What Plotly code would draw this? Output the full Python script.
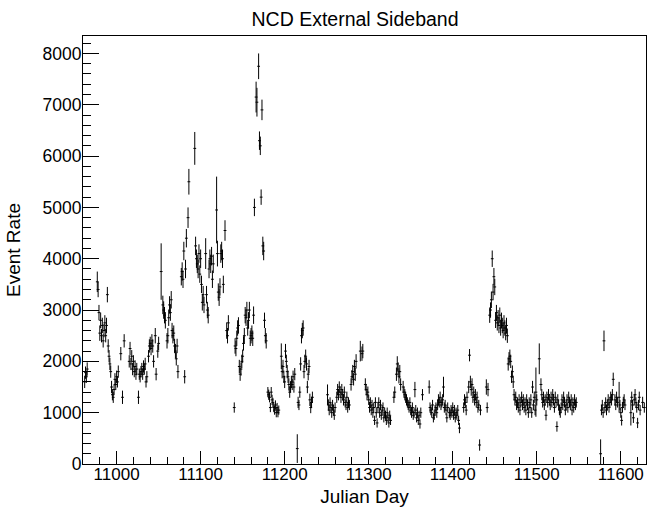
import plotly.graph_objects as go

# ---------------- data (Julian day, event rate, error) ----------------
days_1 = [10962, 10963, 10964, 10965,
          10977, 10978, 10979, 10980, 10981, 10982, 10983, 10984, 10985, 10986, 10987, 10988, 10989,
          10990, 10991, 10992, 10993, 10994, 10995, 10996, 10997, 10998, 10999, 11000, 11001, 11002,
          11005, 11007, 11009,
          11015, 11016, 11017, 11018, 11019, 11020, 11021, 11022, 11023, 11024,
          11026, 11027, 11028, 11029, 11030, 11031, 11032, 11033, 11034, 11035, 11036,
          11038, 11039, 11040, 11041, 11042, 11043, 11044,
          11046, 11047, 11049, 11050]
rate_1 = [1600, 1780, 1700, 1850,
          3550, 3400, 2950, 2550, 2800, 2500, 2700, 2400, 2600, 2750, 2500, 2700, 3300,
          2300, 2100, 1950, 1800, 1500, 1350, 1300, 1450, 1650, 1550, 1700, 1600, 1800,
          2150, 1300, 2400,
          2000, 2250, 1950, 2100, 1850, 2000, 1800, 1900, 1750, 1850,
          1300, 1750, 1700, 1800, 1850, 1750, 1900, 1850, 1950, 1600, 1700,
          2100, 2300, 2350, 2250, 2400, 2300, 2000,
          2500, 1750, 2200, 2350]
err_1 = [120, 120, 120, 130,
         200, 150, 150, 150, 150, 130, 150, 130, 130, 150, 130, 150, 150,
         130, 120, 120, 120, 120, 110, 110, 110, 120, 110, 120, 110, 120,
         130, 130, 130,
         120, 130, 120, 120, 120, 120, 110, 120, 110, 120,
         130, 110, 110, 110, 120, 110, 120, 110, 120, 110, 110,
         120, 130, 130, 130, 130, 130, 120,
         150, 120, 130, 130]

days_2 = [11053, 11055, 11056, 11057, 11058, 11060, 11061, 11062, 11063, 11064, 11065, 11066, 11067,
          11068, 11069, 11070, 11071, 11072, 11073,
          11077, 11078, 11079, 11080, 11081, 11082, 11083, 11085, 11086, 11093,
          11094, 11095, 11096, 11097, 11098, 11099, 11100, 11101, 11102, 11103, 11104,
          11106, 11107, 11108, 11109, 11110, 11111, 11112, 11113, 11114, 11115,
          11119, 11120, 11121, 11122, 11123, 11124, 11125, 11126, 11127, 11129,
          11131, 11132, 11133]
rate_2 = [3750, 3100, 3000, 2900, 2800, 2400, 2500, 2850, 3100, 2950, 3200, 2600, 2500,
          2550, 2300, 2200, 2050, 2300, 1800,
          3650, 3750, 3600, 4150, 1700, 3800, 4400, 4800, 5500, 6150,
          4250, 4000, 3900, 3800, 4100, 3700, 4000, 3500, 3150, 3300, 3100,
          4100, 3300, 3000, 2900, 3800, 4000, 3900, 4050, 3600, 3900,
          4950, 4100, 3350, 3250, 3450, 4100, 4150, 4000, 3500, 4550,
          2600, 2500, 2750]
err_2 = [550, 180, 170, 160, 160, 150, 150, 160, 170, 160, 170, 150, 150,
         150, 140, 140, 130, 140, 130,
         170, 180, 170, 180, 130, 180, 180, 200, 250, 320,
         180, 180, 180, 180, 180, 170, 180, 170, 160, 170, 160,
         300, 170, 160, 160, 180, 180, 180, 180, 170, 180,
         650, 250, 170, 170, 170, 180, 180, 180, 170, 200,
         160, 150, 150]

days_3 = [11140, 11141, 11142, 11143, 11144, 11145, 11146, 11147, 11148, 11149, 11150, 11151,
          11152, 11153, 11154, 11155, 11156, 11157, 11158, 11159, 11160, 11161, 11162, 11163,
          11164, 11166, 11167, 11169, 11170, 11171, 11172, 11173, 11174, 11175,
          11176, 11177, 11178]
rate_3 = [1100, 2300, 2250, 2450, 2650, 2700, 1900, 1750, 1850, 2000, 2100, 2350,
          2500, 2900, 2850, 3000, 2650, 2800, 3000, 2450, 2500, 2550, 2450, 2900,
          5000, 7150, 7050, 7750, 6300, 6200, 5200, 6900, 4250, 4150,
          2800, 2500, 2400]
err_3 = [100, 150, 150, 150, 150, 160, 130, 130, 130, 130, 130, 140,
         150, 160, 160, 160, 150, 160, 160, 150, 150, 150, 150, 170,
         170, 300, 280, 250, 180, 180, 150, 200, 180, 180,
         150, 150, 150]

days_4 = [11180, 11181, 11182, 11183, 11184, 11185, 11186, 11187, 11188, 11189, 11190, 11191, 11192, 11193,
          11196, 11197, 11198, 11199, 11200, 11201, 11202, 11203, 11204, 11205, 11206, 11207, 11208,
          11209, 11210, 11211, 11212,
          11215, 11216, 11217, 11218, 11219, 11220, 11221, 11222, 11223, 11224, 11225, 11226, 11227,
          11228, 11229, 11230, 11231, 11232, 11233]
rate_4 = [1400, 1350, 1300, 1100, 1400, 1250, 1200, 1100, 1050, 1150, 1000, 1100, 1000, 1050,
          2100, 1800, 1900, 1700, 1600, 2200, 2000, 1800, 1700, 1550, 1400, 1500, 1600,
          1550, 1700, 1500, 1750,
          300, 1200, 1150, 1400, 1950, 2500, 2600, 2650, 1800, 2000, 2100, 1950, 1500,
          1750, 1900, 1250, 1100, 1200, 1300]
err_4 = [100, 100, 100, 90, 100, 100, 90, 90, 90, 90, 90, 90, 90, 90,
         250, 130, 130, 120, 120, 140, 130, 130, 120, 120, 110, 110, 120,
         110, 120, 110, 120,
         280, 110, 100, 110, 130, 150, 150, 150, 130, 130, 130, 130, 120,
         120, 130, 120, 110, 110, 110]

days_5 = [11251, 11252, 11253, 11254, 11255, 11256, 11257, 11258, 11259, 11260,
          11262, 11263, 11264, 11265, 11266, 11267, 11268, 11269, 11270, 11271, 11272, 11273,
          11274, 11275, 11276, 11277,
          11279, 11280, 11281, 11282, 11283, 11284, 11285,
          11290, 11292, 11293,
          11296, 11297, 11298, 11299, 11300, 11301, 11302, 11303, 11304, 11305,
          11306, 11307, 11308, 11309, 11310, 11311, 11312, 11313, 11314, 11315,
          11316, 11317, 11318, 11319, 11320, 11321, 11322, 11323, 11324, 11325, 11326,
          11330, 11331,
          11333, 11334, 11335, 11336, 11337, 11338,
          11341, 11342, 11343, 11344, 11345, 11346, 11347, 11348, 11349, 11350,
          11351, 11352, 11353, 11354, 11355, 11356, 11357, 11358, 11359, 11360, 11361, 11362,
          11364]
rate_5 = [1350, 1150, 1050, 1200, 1100, 1000, 1150, 1050, 950, 1100,
          1300, 1450, 1350, 1500, 1400, 1300, 1450, 1350, 1250, 1400, 1200, 1150,
          1300, 1100, 1200, 1150,
          1550, 1700, 1800, 1650, 1900, 1750, 2000,
          2200, 2150, 2200,
          1550, 1450, 1350, 1400, 1250, 1100, 1200, 1050, 1150, 1000,
          1100, 850, 1200, 1000, 800, 1100, 1200, 1000, 1150, 950,
          1050, 1100, 900, 1000, 950, 850, 1000, 900, 800, 950, 850,
          1300, 1400,
          1750, 1950, 1850, 1700, 1800, 1550,
          1500, 1400, 1350, 1300, 1250, 1200, 1150, 1100, 1200, 1050,
          1000, 1100, 950, 1000, 1450, 1050, 900, 1000, 850, 950, 780, 1000,
          1350]
err_5 = [200, 110, 100, 100, 100, 100, 100, 100, 90, 100,
         110, 110, 110, 110, 110, 110, 110, 110, 110, 110, 100, 100,
         110, 100, 100, 100,
         120, 130, 130, 120, 130, 130, 140,
         200, 140, 140,
         120, 110, 110, 110, 100, 100, 100, 100, 100, 100,
         100, 90, 100, 100, 90, 100, 100, 100, 100, 90,
         100, 100, 90, 100, 90, 90, 100, 90, 90, 90, 90,
         110, 110,
         130, 150, 130, 130, 130, 120,
         120, 110, 110, 110, 110, 100, 100, 100, 100, 100,
         100, 100, 90, 100, 150, 100, 90, 100, 90, 90, 90, 100,
         110]

days_6 = [11372, 11373, 11374, 11375, 11376, 11377, 11378, 11379, 11380, 11381,
          11382, 11383, 11384, 11385, 11386, 11387, 11388, 11389, 11390, 11391, 11392, 11393, 11394,
          11396, 11397, 11398, 11399, 11400, 11401, 11402, 11403, 11404, 11405, 11406, 11407, 11408,
          11413, 11414, 11415, 11416, 11417,
          11419, 11420, 11421, 11422, 11423, 11424, 11425, 11426, 11427, 11428, 11429, 11430,
          11431, 11432, 11433,
          11440, 11441, 11442]
rate_6 = [1500, 1100, 1050, 1000, 1150, 900, 950, 1050, 1100, 1000,
          1150, 1250, 1200, 1300, 1150, 1200, 1250, 1500, 1100, 1150, 1050, 900, 1100,
          1000, 950, 1050, 1000, 1100, 950, 1050, 900, 1000, 950, 1050, 850, 700,
          1100, 1250, 1200, 1050, 1300,
          1500, 2120, 1600, 1450, 1550, 1300, 1400, 1250, 1350, 1200, 1300, 1100,
          1150, 370, 1050,
          1500, 1100, 1450]
err_6 = [130, 100, 100, 100, 100, 90, 90, 100, 100, 100,
         100, 110, 100, 110, 100, 100, 110, 200, 100, 100, 100, 90, 100,
         100, 90, 100, 100, 100, 90, 100, 90, 100, 90, 100, 90, 100,
         100, 110, 110, 100, 110,
         120, 120, 120, 120, 120, 110, 110, 110, 110, 100, 110, 100,
         100, 110, 100,
         150, 100, 130]

days_7 = [11444, 11445, 11446, 11447, 11448, 11449, 11450, 11451, 11452, 11453,
          11454, 11455, 11456, 11457, 11458, 11459, 11460, 11461, 11462, 11463,
          11464, 11465, 11466, 11467, 11468, 11469, 11470, 11471, 11472, 11473,
          11474, 11475, 11476, 11477, 11478, 11479, 11480, 11481, 11482, 11483,
          11484, 11485, 11486, 11487, 11488, 11489, 11490, 11491, 11492, 11493,
          11494, 11495, 11496, 11497, 11498, 11499, 11500,
          11503]
rate_7 = [2900, 3000, 3200, 4000, 3350, 3650, 3450, 2800, 2950, 2750,
          2850, 2700, 2900, 2650, 2800, 2700, 2600, 2750, 2650, 2550,
          2700, 2500, 1950, 2050, 2100, 2000, 1700, 1800, 1600, 1350,
          1250, 1300, 1150, 1200, 1100, 1250, 1050, 1200, 1300, 1150,
          1250, 1100, 1200, 1050, 1250, 1150, 1000, 1200, 1100, 1250,
          1000, 1500, 1150, 1300, 1050, 1400, 1250,
          2050]
err_7 = [150, 150, 160, 160, 160, 170, 160, 150, 150, 150,
         150, 150, 150, 150, 150, 150, 150, 150, 150, 140,
         150, 140, 130, 130, 130, 130, 120, 120, 120, 110,
         110, 110, 100, 100, 100, 110, 100, 100, 110, 100,
         110, 100, 100, 100, 110, 100, 100, 100, 100, 110,
         100, 120, 100, 110, 100, 480, 110,
         300]

days_8 = [11505, 11506, 11507, 11508, 11509, 11510, 11511, 11512, 11513, 11514,
          11515, 11516, 11517, 11518, 11519, 11520, 11521, 11522, 11523, 11524,
          11525, 11526, 11527, 11528, 11529, 11530, 11531, 11532, 11533, 11534,
          11535, 11536, 11537, 11538, 11539, 11540, 11541, 11542, 11543, 11544,
          11545, 11546, 11547]
rate_8 = [1550, 1350, 1200, 1300, 1150, 1250, 950, 1300, 1200, 1350,
          1250, 1150, 1300, 1200, 1350, 1250, 1100, 1300, 1200, 730,
          1250, 1150, 1050, 1000, 1100, 1250, 1150, 1300, 1200, 1050,
          1150, 1250, 1100, 1300, 1200, 1150, 1250, 1050, 1200, 1100,
          1250, 1150, 1200]
err_8 = [120, 110, 100, 110, 100, 110, 100, 110, 100, 110,
         110, 100, 110, 100, 110, 110, 100, 110, 100, 100,
         110, 100, 100, 100, 100, 110, 100, 110, 100, 100,
         100, 110, 100, 110, 100, 100, 110, 100, 100, 100,
         110, 100, 100]

days_9 = [11576, 11577, 11578, 11579, 11580, 11581, 11582, 11583, 11584, 11585,
          11586, 11587, 11588, 11589, 11590, 11591,
          11593, 11594, 11595, 11596,
          11598, 11599, 11600, 11601, 11602, 11603, 11604, 11605,
          11612, 11613, 11614, 11615, 11616, 11617, 11618, 11619, 11620, 11621, 11622, 11623,
          11626, 11628]
rate_9 = [200, 1050, 1150, 1000, 2400, 1100, 1200, 1050, 1150, 1250,
          1100, 1200, 1300, 1250, 1350, 1650,
          1250, 1150, 1300, 1200,
          1300, 1150, 1000, 850, 1100, 1200, 1250, 1150,
          1000, 1300, 1150, 900, 1250, 1350, 1200, 1100, 800, 1150, 1300, 1050,
          1200, 1100]
err_9 = [280, 100, 100, 100, 200, 100, 100, 100, 100, 110,
         100, 100, 110, 110, 110, 130,
         110, 100, 110, 100,
         300, 100, 100, 100, 100, 110, 110, 100,
         250, 110, 100, 100, 110, 110, 100, 100, 100, 100, 110, 100,
         110, 100]

x_ticks = [11000, 11100, 11200, 11300, 11400, 11500, 11600]
x_tick_labels = ["11000", "11100", "11200", "11300", "11400", "11500", "11600"]
y_ticks = [0, 1000, 2000, 3000, 4000, 5000, 6000, 7000, 8000]
y_tick_labels = ["0", "1000", "2000", "3000", "4000", "5000", "6000", "7000", "8000"]

segments = [(days_1, rate_1, err_1), (days_2, rate_2, err_2), (days_3, rate_3, err_3),
            (days_4, rate_4, err_4), (days_5, rate_5, err_5), (days_6, rate_6, err_6),
            (days_7, rate_7, err_7), (days_8, rate_8, err_8), (days_9, rate_9, err_9)]
days, rate, err = [], [], []
for i, (d, r, e) in enumerate(segments):
    if not (len(d) == len(r) == len(e)):
        raise ValueError(f"segment {i+1}: {len(d)} {len(r)} {len(e)}")
    days += d
    rate += r
    err += e

FONT = "Liberation Sans, Arial, Helvetica, sans-serif"
W, H = 647, 513

fig = go.Figure()
fig.add_trace(go.Scatter(
    x=days, y=rate, mode="markers",
    marker=dict(symbol="line-ew", size=2, color="black", line=dict(width=1, color="black")),
    error_y=dict(type="data", array=err, visible=True, thickness=1, width=0, color="black"),
    showlegend=False, hoverinfo="x+y",
))

fig.update_layout(
    width=W, height=H,
    margin=dict(l=83, r=1, t=36, b=49, autoexpand=False),
    paper_bgcolor="white", plot_bgcolor="white",
    font=dict(family=FONT, color="black", size=17),
    title=dict(text="NCD External Sideband", font=dict(size=19.5, family=FONT, color="black"),
               x=355 / W, xref="container", xanchor="center",
               y=1 - 19 / H, yref="container", yanchor="middle"),
    xaxis=dict(range=[10960, 11630], tickvals=x_ticks, ticktext=x_tick_labels,
               ticks="inside", ticklen=13, tickwidth=1, automargin=False, ticklabelstandoff=-5,
               tickcolor="black", showline=True, linecolor="black", linewidth=1, mirror=True,
               showgrid=False, zeroline=False, tickfont=dict(size=17),
               minor=dict(ticks="inside", ticklen=7, dtick=20, tick0=11000, tickcolor="black",
                          tickwidth=1, showgrid=False),
               title=dict(text="Julian Day", font=dict(size=19), standoff=6)),
    yaxis=dict(range=[0, 8340], tickvals=y_ticks, ticktext=y_tick_labels,
               ticks="inside", ticklen=16, tickwidth=1, automargin=False, ticklabelstandoff=-3,
               tickcolor="black", showline=True, linecolor="black", linewidth=1, mirror=True,
               showgrid=False, zeroline=False, tickfont=dict(size=17.5),
               minor=dict(ticks="inside", ticklen=8, dtick=200, tick0=0, tickcolor="black",
                          tickwidth=1, showgrid=False),
               title=dict(text="Event Rate", font=dict(size=19), standoff=16)),
)

# remove the browser's default page margin so the figure fills the window exactly
fig.write_html("out.html", config={"displayModeBar": False},
               post_script="document.body.style.margin='0';document.body.style.overflow='hidden';")
